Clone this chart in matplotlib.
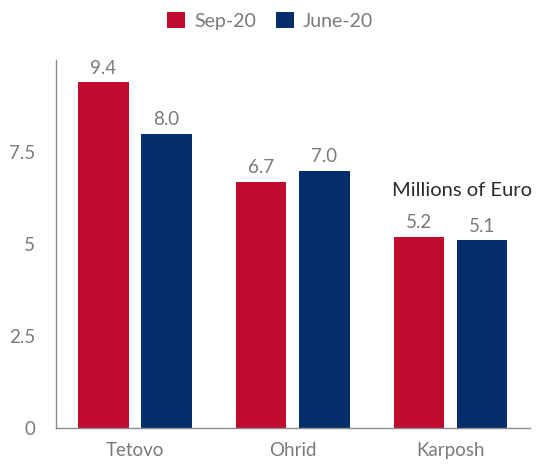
import numpy as np
import matplotlib.pyplot as plt

plt.rcParams['font.family'] = ['Lato', 'DejaVu Sans']

# Данные
cities = ['Tetovo', 'Ohrid', 'Karposh']
sep20 = [9.4, 6.7, 5.2]
june20 = [8.0, 7.0, 5.1]
series_names = ['Sep-20', 'June-20']
yticks = [0, 2.5, 5, 7.5]
ytick_labels = ['0', '2.5', '5', '7.5']

red = '#BE0B2E'
navy = '#032D6B'
gray = '#7A7A7A'

fig = plt.figure(figsize=(5.4, 4.65), dpi=100)
ax = fig.add_axes([0.1037, 0.0796, 0.877, 0.791])

x = np.arange(len(cities))
w = 0.32
off = 0.2
b1 = ax.bar(x - off, sep20, w, color=red, label=series_names[0])
b2 = ax.bar(x + off, june20, w, color=navy, label=series_names[1])

for bars, vals in [(b1, sep20), (b2, june20)]:
    for rect, v in zip(bars, vals):
        ax.annotate(f'{v:.1f}', (rect.get_x() + rect.get_width() / 2, v),
                    xytext=(0, 4), textcoords='offset points',
                    ha='center', va='bottom', fontsize=13.5, color=gray)

ax.set_xlim(-0.5, 2.5)
ax.set_ylim(0, 10)
ax.set_xticks(x)
ax.set_xticklabels(cities, fontsize=13.5, color=gray)
ax.set_yticks(yticks)
ax.set_yticklabels(ytick_labels, fontsize=13.5, color=gray)
ax.tick_params(length=0, pad=10)
ax.tick_params(axis='y', pad=15)

for s in ['top', 'right']:
    ax.spines[s].set_visible(False)
for s in ['left', 'bottom']:
    ax.spines[s].set_color('#8C8C8C')
    ax.spines[s].set_linewidth(1)

ax.text(2.07, 6.47, 'Millions of Euro', ha='center', va='center',
        fontsize=14.5, color='#2B2B2B')

fig.legend(loc='center', bbox_to_anchor=(0.5, 0.955), ncol=2,
           frameon=False, fontsize=14, handlelength=0.93, handleheight=0.93,
           columnspacing=1.0, handletextpad=0.46, labelcolor=gray,
           borderpad=0)

plt.savefig('out.png')
